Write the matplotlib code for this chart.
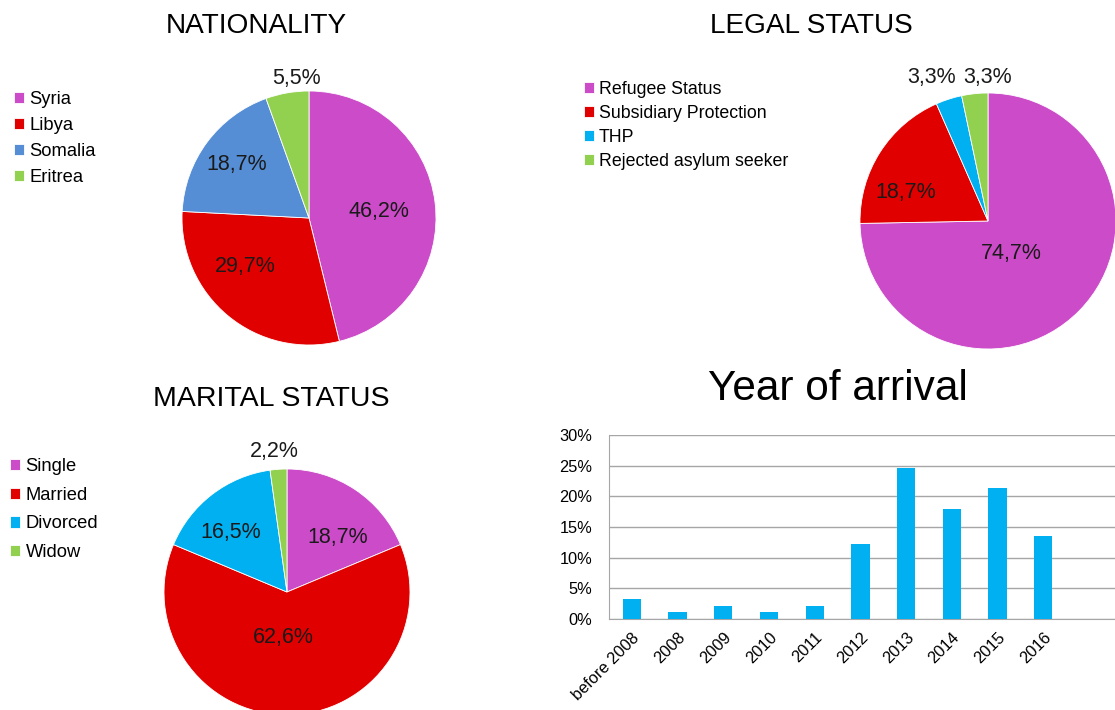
import numpy as np
import matplotlib
matplotlib.use("Agg")
import matplotlib.pyplot as plt

plt.rcParams['font.family'] = ['Liberation Sans', 'DejaVu Sans']

# data
nat_labels = ["Syria", "Libya", "Somalia", "Eritrea"]
nat_values = [46.2, 29.7, 18.7, 5.5]

legal_labels = ["Refugee Status", "Subsidiary Protection", "THP", "Rejected asylum seeker"]
legal_values = [74.7, 18.7, 3.3, 3.3]

mar_labels = ["Single", "Married", "Divorced", "Widow"]
mar_values = [18.7, 62.6, 16.5, 2.2]

years = ["before 2008", "2008", "2009", "2010", "2011", "2012", "2013", "2014", "2015", "2016"]
year_pct = [3.3, 1.1, 2.2, 1.1, 2.2, 12.3, 24.7, 18.0, 21.3, 13.5]

# colours
MAG = "#CC4BC8"
RED = "#E10000"
BLUE = "#558ED5"
CYAN = "#00B0F0"
GREEN = "#92D050"

W, H = 1115, 710
fig = plt.figure(figsize=(W/100, H/100), dpi=100)

def box(x0, y0, x1, y1):
    return [x0/W, 1 - y1/H, (x1 - x0)/W, (y1 - y0)/H]

def pct(v):
    return ("%.1f%%" % v).replace(".", ",")

def pie(cx, cy, r, values, colors, label_xy):
    ax = fig.add_axes(box(cx - r, cy - r, cx + r, cy + r))
    ax.pie(values, colors=colors, startangle=90, counterclock=False, radius=1,
           wedgeprops=dict(edgecolor="white", linewidth=0.6))
    for v, (x, y) in zip(values, label_xy):
        ax.text(x, y, pct(v), ha="center", va="center", fontsize=15.5, color="#1a1a1a")
    ax.set_xlim(-1, 1)
    ax.set_ylim(-1, 1)
    ax.set_aspect("auto")
    ax.axis("off")
    return ax

def legend(ax, labels, x, y, spacing, size=12.8):
    wedges = [p for p in ax.patches]
    fig.legend(wedges, labels, loc="upper left", bbox_to_anchor=(x/W, 1 - y/H),
               bbox_transform=fig.transFigure, frameon=False, fontsize=size,
               handlelength=0.55, handleheight=0.55, handletextpad=0.3,
               labelspacing=spacing, borderpad=0, borderaxespad=0)

# NATIONALITY
ax1 = pie(309, 218, 127, nat_values, [MAG, RED, BLUE, GREEN],
          [(0.55, 0.055), (-0.50, -0.38), (-0.57, 0.42), (-0.10, 1.10)])
legend(ax1, nat_labels, 14, 91, 0.49, 13.2)
fig.text(256/W, 1 - 33/H, "NATIONALITY", ha="center", va="baseline", fontsize=20.2)

# LEGAL STATUS
ax2 = pie(988, 221, 128, legal_values, [MAG, RED, CYAN, GREEN],
          [(0.18, -0.25), (-0.64, 0.22), (-0.44, 1.12), (0.0, 1.12)])
legend(ax2, legal_labels, 584, 81, 0.39)
fig.text(811/W, 1 - 33/H, "LEGAL STATUS", ha="center", va="baseline", fontsize=20.2)

# MARITAL STATUS
ax3 = pie(287, 592, 123, mar_values, [MAG, RED, CYAN, GREEN],
          [(0.41, 0.44), (-0.03, -0.37), (-0.46, 0.48), (-0.10, 1.14)])
legend(ax3, mar_labels, 10, 458, 0.64, 13.2)
fig.text(271/W, 1 - 406/H, "MARITAL STATUS", ha="center", va="baseline", fontsize=20.5)

# Year of arrival
ax4 = fig.add_axes(box(609, 435, 1115, 619))
x = np.arange(len(years))
ax4.bar(x, year_pct, width=0.4, color=CYAN, zorder=3)
ax4.set_xlim(-0.5, 10.57)
ax4.set_ylim(0, 30)
ax4.set_yticks(np.arange(0, 31, 5))
ax4.set_yticklabels(["%d%%" % t for t in range(0, 31, 5)], fontsize=11.8)
ax4.set_xticks(x)
ax4.set_xticklabels(years, rotation=45, ha="right", rotation_mode="anchor", fontsize=11.8)
ax4.tick_params(axis="y", length=0, pad=12)
ax4.tick_params(axis="x", length=0, pad=8)
ax4.yaxis.grid(True, color="#A6A6A6", linewidth=1, zorder=0)
for s in ["top", "right"]:
    ax4.spines[s].set_visible(False)
for s in ["left", "bottom"]:
    ax4.spines[s].set_color("#A6A6A6")
fig.text(838/W, 1 - 400/H, "Year of arrival", ha="center", va="baseline", fontsize=30.5)

fig.savefig("out.png", dpi=100)
